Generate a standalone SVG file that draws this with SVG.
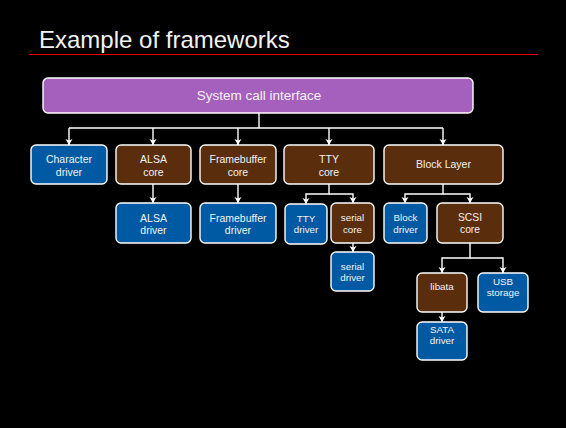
<svg xmlns="http://www.w3.org/2000/svg" width="566" height="428" viewBox="0 0 566 428">
<defs>
<style>
text{font-family:"Liberation Sans",Arial,sans-serif;fill:#f2f2f2;text-anchor:middle}
.b{stroke:#fff;stroke-width:1.4}
.p{fill:#A55FBD}
.u{fill:#005AA3}
.r{fill:#5A2E0C}
.t{font-size:10.5px}
.s{font-size:9.8px}
.c{fill:none;stroke:#fff;stroke-width:1.4}
</style>
<marker id="ah" markerUnits="userSpaceOnUse" markerWidth="8" markerHeight="8" refX="6" refY="3.5" orient="auto">
<path d="M0,0 L6,3.5 L0,7 L1.5,3.5 z" fill="#fff"/>
</marker>
</defs>
<rect width="566" height="428" fill="#000"/>
<text x="39" y="48" style="font-size:24px;text-anchor:start">Example of frameworks</text>
<line x1="29" y1="54.5" x2="538" y2="54.5" stroke="#E80000" stroke-width="1"/>

<g id="connectors">
<path class="c" d="M259 113 V128 M69 128 H443"/>
<path class="c" marker-end="url(#ah)" d="M69 128 V145"/>
<path class="c" marker-end="url(#ah)" d="M153 128 V145"/>
<path class="c" marker-end="url(#ah)" d="M238 128 V145"/>
<path class="c" marker-end="url(#ah)" d="M329 128 V145"/>
<path class="c" marker-end="url(#ah)" d="M443 128 V145"/>
<path class="c" marker-end="url(#ah)" d="M153 184 V203"/>
<path class="c" marker-end="url(#ah)" d="M238 184 V203"/>
<path class="c" marker-end="url(#ah)" d="M329 184 V194 H306 V204"/>
<path class="c" marker-end="url(#ah)" d="M329 194 H353 V203"/>
<path class="c" marker-end="url(#ah)" d="M443 184 V194 H405 V203"/>
<path class="c" marker-end="url(#ah)" d="M443 194 H470 V203"/>
<path class="c" marker-end="url(#ah)" d="M353 243 V252"/>
<path class="c" marker-end="url(#ah)" d="M470 243 V258 H442 V273"/>
<path class="c" marker-end="url(#ah)" d="M470 258 H503 V273"/>
<path class="c" marker-end="url(#ah)" d="M442 312 V322"/>
</g>

<g id="syscall"><rect class="b p" x="43" y="78" width="430" height="35" rx="5"/><text x="259" y="100" style="font-size:13.5px">System call interface</text></g>

<g id="chardrv"><rect class="b u" x="31" y="145" width="76" height="39" rx="5"/><text class="t" x="69" y="163.3">Character</text><text class="t" x="69" y="176">driver</text></g>
<g id="alsacore"><rect class="b r" x="116" y="145" width="75" height="39" rx="5"/><text class="t" x="153.5" y="163.3">ALSA</text><text class="t" x="153.5" y="176">core</text></g>
<g id="fbcore"><rect class="b r" x="200" y="145" width="76" height="39" rx="5"/><text class="t" x="238" y="163.3">Framebuffer</text><text class="t" x="238" y="176">core</text></g>
<g id="ttycore"><rect class="b r" x="284" y="145" width="90" height="39" rx="5"/><text class="t" x="329" y="163.3">TTY</text><text class="t" x="329" y="176">core</text></g>
<g id="blocklayer"><rect class="b r" x="384" y="145" width="119" height="39" rx="5"/><text class="t" x="443.5" y="168.3">Block Layer</text></g>

<g id="alsadrv"><rect class="b u" x="116" y="203" width="75" height="40" rx="5"/><text class="t" x="153.5" y="221.5">ALSA</text><text class="t" x="153.5" y="234">driver</text></g>
<g id="fbdrv"><rect class="b u" x="200" y="203" width="76" height="40" rx="5"/><text class="t" x="238" y="221.5">Framebuffer</text><text class="t" x="238" y="234">driver</text></g>
<g id="ttydrv"><rect class="b u" x="285" y="204" width="42" height="40" rx="5"/><text class="s" x="306" y="221.7">TTY</text><text class="s" x="306" y="233.3">driver</text></g>
<g id="serialcore"><rect class="b r" x="331" y="203" width="43" height="40" rx="5"/><text class="s" x="352.5" y="221">serial</text><text class="s" x="352.5" y="232.7">core</text></g>
<g id="blockdrv"><rect class="b u" x="384" y="203" width="43" height="40" rx="5"/><text class="s" x="405.5" y="221">Block</text><text class="s" x="405.5" y="232.7">driver</text></g>
<g id="scsicore"><rect class="b r" x="437" y="203" width="66" height="40" rx="5"/><text x="470" y="221" style="font-size:10.3px">SCSI</text><text x="470" y="232.7" style="font-size:10.3px">core</text></g>

<g id="serialdrv"><rect class="b u" x="331" y="252" width="43" height="39" rx="5"/><text class="s" x="352.5" y="270">serial</text><text class="s" x="352.5" y="281">driver</text></g>
<g id="libata"><rect class="b r" x="417" y="273" width="50" height="39" rx="5"/><text class="s" x="442" y="290">libata</text></g>
<g id="usbstorage"><rect class="b u" x="478" y="273" width="50" height="39" rx="5"/><text class="s" x="503" y="285">USB</text><text class="s" x="503" y="295.5">storage</text></g>
<g id="satadrv"><rect class="b u" x="417" y="322" width="50" height="38" rx="5"/><text class="s" x="442" y="332.7">SATA</text><text class="s" x="442" y="344.3">driver</text></g>
</svg>
